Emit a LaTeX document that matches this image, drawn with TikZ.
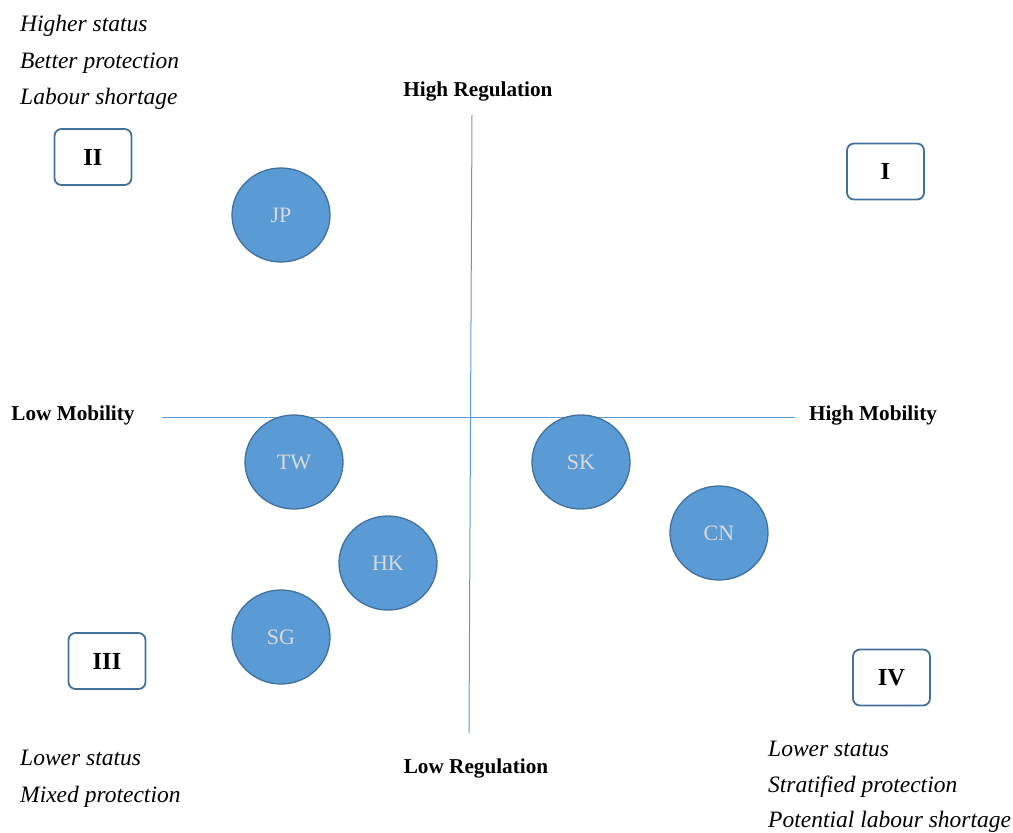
\documentclass[tikz,border=0pt]{standalone}
\usepackage{fontspec}
\setmainfont{Liberation Serif}
\usetikzlibrary{shapes.geometric}
\definecolor{axis}{HTML}{5B9BD5}
\definecolor{cfill}{HTML}{5B9BD5}
\definecolor{cedge}{HTML}{41719C}
\definecolor{boxedge}{HTML}{41719C}
\definecolor{ctext}{HTML}{DADADA}
\begin{document}
\begin{tikzpicture}[x=1pt,y=-1pt,
  axisline/.style={draw=axis,line width=1pt},
  country/.style={ellipse,draw=cedge,line width=1.3pt,fill=cfill,minimum width=98pt,minimum height=94pt,inner sep=0pt,text=ctext,font=\fontsize{22}{24}\selectfont},
  quad/.style={draw=boxedge,line width=1.8pt,rounded corners=7pt,minimum width=77pt,minimum height=56pt,inner sep=0pt,font=\fontsize{24.5}{26}\selectfont\bfseries},
  axlabel/.style={font=\fontsize{21.2}{23}\selectfont\bfseries,inner sep=0pt},
  note/.style={font=\fontsize{23.5}{26}\selectfont\itshape,inner sep=0pt,anchor=base west}
]
\useasboundingbox (0,0) rectangle (1013,833);
\coordinate (vtop) at (472,115);
\coordinate (vbot) at (469,733);
\coordinate (hl) at (162,417);
\coordinate (hr) at (795,417);
\draw[axisline] (vtop) -- (vbot);
\draw[axisline] (hl) -- (hr);

\node[axlabel] (hreg) at (478,91) {High Regulation};
\node[axlabel] (lreg) at (476,768) {Low Regulation};
\node[axlabel] (lmob) at (73,415) {Low Mobility};
\node[axlabel] (hmob) at (873,415) {High Mobility};

\node[quad] (q2) at (93,157) {II};
\node[quad] (q1) at (885.5,171.5) {I};
\node[quad] (q3) at (107,661) {III};
\node[quad] (q4) at (891.5,677.5) {IV};

\node[country] (jp) at (281,215) {JP};
\node[country] (tw) at (294,462) {TW};
\node[country] (sk) at (581,462) {SK};
\node[country] (cn) at (719,533) {CN};
\node[country] (hk) at (388,563) {HK};
\node[country] (sg) at (281,637) {SG};

\node[note] (n2a) at (20,31.5) {Higher status};
\node[note] (n2b) at (20,68) {Better protection};
\node[note] (n2c) at (20,104.5) {Labour shortage};
\node[note] (n3a) at (20,765) {Lower status};
\node[note] (n3b) at (20,802) {Mixed protection};
\node[note] (n4a) at (768,756) {Lower status};
\node[note] (n4b) at (768,792) {Stratified protection};
\node[note] (n4c) at (768,827.5) {Potential labour shortage};
\end{tikzpicture}
\end{document}
